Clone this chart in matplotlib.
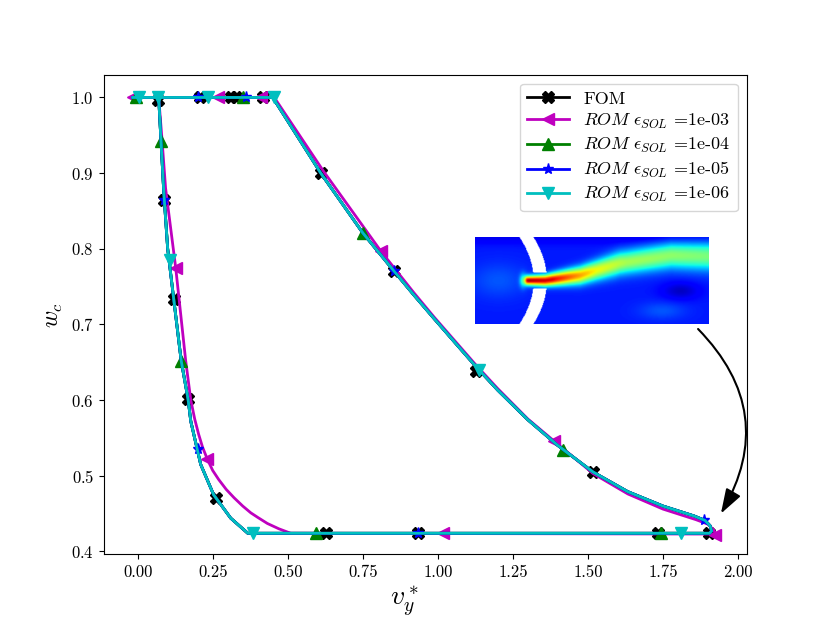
import numpy as np
import matplotlib
matplotlib.use("Agg")
import matplotlib.pyplot as plt
from matplotlib.lines import Line2D

plt.rcParams['font.family'] = 'serif'
plt.rcParams['font.serif'] = ['cmr10', 'DejaVu Serif']
plt.rcParams['mathtext.fontset'] = 'cm'
plt.rcParams['axes.unicode_minus'] = False
plt.rcParams['axes.formatter.use_mathtext'] = True

# front traced by the FOM (ROM 1e-04 .. 1e-06 sit on top of it)
fom_x = [-0.017, 0.45, 0.61, 0.75, 0.853, 0.92, 0.987, 1.077, 1.13, 1.20, 1.30, 1.40,
         1.517, 1.633, 1.75, 1.853, 1.89, 1.907, 1.912, 1.905, 0.367, 0.31, 0.253,
         0.21, 0.177, 0.168, 0.145, 0.12, 0.10, 0.087, 0.078, 0.07]
fom_y = [1.0, 1.0, 0.90, 0.821, 0.771, 0.739, 0.708, 0.667, 0.643, 0.613, 0.574, 0.540,
         0.505, 0.479, 0.460, 0.447, 0.441, 0.434, 0.427, 0.424, 0.424, 0.444, 0.475,
         0.515, 0.572, 0.601, 0.652, 0.734, 0.80, 0.875, 0.94, 1.0]

# ROM eps=1e-03 front
rom3_x = [-0.017, 0.455, 0.62, 0.81, 0.92, 0.987, 1.13, 1.20, 1.30, 1.387, 1.517, 1.633,
          1.75, 1.86, 1.90, 1.92, 1.925, 0.51, 0.47, 0.432, 0.40, 0.377, 0.35, 0.321,
          0.295, 0.27, 0.25, 0.232, 0.216, 0.203, 0.19, 0.177, 0.16, 0.127, 0.093,
          0.08, 0.07]
rom3_y = [1.0, 1.0, 0.902, 0.797, 0.742, 0.710, 0.645, 0.615, 0.575, 0.546, 0.503, 0.476,
          0.456, 0.442, 0.436, 0.428, 0.423, 0.424, 0.430, 0.437, 0.445, 0.451, 0.460,
          0.471, 0.482, 0.495, 0.507, 0.522, 0.538, 0.555, 0.575, 0.60, 0.652, 0.774,
          0.88, 0.95, 1.0]

# marker positions
fom_mx = [0.067, 0.207, 0.31, 0.327, 0.417, 0.61, 0.853, 1.127, 1.517, 1.903, 1.733,
          0.933, 0.627, 0.26, 0.168, 0.12, 0.087]
fom_my = [0.996, 1.0, 1.0, 1.0, 1.0, 0.90, 0.771, 0.638, 0.505, 0.424, 0.424,
          0.424, 0.424, 0.470, 0.601, 0.734, 0.865]
rom3_mx = [-0.017, 0.267, 0.41, 0.81, 1.387, 1.925, 1.017, 0.232, 0.127]
rom3_my = [1.0, 1.0, 1.0, 0.797, 0.546, 0.422, 0.424, 0.522, 0.774]
rom4_mx = [-0.005, 0.077, 0.35, 0.75, 1.417, 1.743, 0.593, 0.145]
rom4_my = [1.0, 0.943, 1.0, 0.821, 0.534, 0.424, 0.424, 0.652]
rom5_mx = [0.202, 0.36, 0.853, 1.887, 0.933, 0.2, 0.087]
rom5_my = [1.0, 1.0, 0.771, 0.442, 0.424, 0.535, 0.865]
rom6_mx = [0.003, 0.067, 0.233, 0.453, 1.137, 1.81, 0.383, 0.107]
rom6_my = [1.0, 1.0, 1.0, 1.0, 0.640, 0.424, 0.424, 0.785]

labels = ['FOM',
          r'$ROM\ \epsilon_{SOL}$ =1e-03',
          r'$ROM\ \epsilon_{SOL}$ =1e-04',
          r'$ROM\ \epsilon_{SOL}$ =1e-05',
          r'$ROM\ \epsilon_{SOL}$ =1e-06']
colors = ['k', 'm', 'g', 'b', 'c']
markers = ['X', '<', '^', '*', 'v']

series = [(fom_x, fom_y, fom_mx, fom_my),
          (rom3_x, rom3_y, rom3_mx, rom3_my),
          (fom_x, fom_y, rom4_mx, rom4_my),
          (fom_x, fom_y, rom5_mx, rom5_my),
          (fom_x, fom_y, rom6_mx, rom6_my)]

fig = plt.figure(figsize=(8.3, 6.23), dpi=100)
ax = fig.add_subplot(111)

handles = []
for (px, py, mx, my), c, mk, lab in zip(series, colors, markers, labels):
    ax.plot(px, py, color=c, lw=2)
    ax.plot(mx, my, color=c, marker=mk, ms=8, ls='none')
    handles.append(Line2D([], [], color=c, lw=2, marker=mk, ms=8, label=lab))

ax.set_xlim(-0.113, 2.03)
ax.set_ylim(0.396, 1.030)
ax.set_xticks([0.0, 0.25, 0.5, 0.75, 1.0, 1.25, 1.5, 1.75, 2.0])
ax.set_xticklabels(['0.00', '0.25', '0.50', '0.75', '1.00', '1.25', '1.50', '1.75', '2.00'])
ax.tick_params(labelsize=12)
ax.set_xlabel(r'$v_y^*$', fontsize=20)
ax.set_ylabel(r'$w_c$', fontsize=17)
ax.xaxis.set_label_coords(0.467, -0.06)

ax.legend(handles=handles, loc='upper right', fontsize=13, handlelength=2.3,
          labelspacing=0.28)

ax.annotate('', xy=(1.943, 0.450), xytext=(1.867, 0.694),
            arrowprops=dict(arrowstyle='-|>,head_length=0.6,head_width=0.2',
                            connectionstyle='arc3,rad=-0.38', color='k', lw=1.5,
                            mutation_scale=25, shrinkA=0, shrinkB=0),
            annotation_clip=False)

# inset: flow snapshot (jet through the orifice)
u = np.linspace(0, 1, 320)
v = np.linspace(0, 1, 120)
U, V = np.meshgrid(u, v)
vc = np.interp(U, [0, 0.3, 0.45, 0.62, 0.84, 1.0], [0.5, 0.5, 0.44, 0.30, 0.21, 0.22])
wd = np.interp(U, [0.21, 0.3, 0.45, 0.6, 1.0], [0.05, 0.065, 0.1, 0.13, 0.16])
peak = np.interp(U, [0.21, 0.33, 0.42, 0.52, 0.65, 1.0], [0.95, 0.92, 0.78, 0.64, 0.55, 0.5])
on = 1 / (1 + np.exp(-(U - 0.215) / 0.004))
field = 0.15 + on * (peak - 0.15) * np.exp(-((V - vc) / wd) ** 2)
field += 0.25 * np.exp(-((U - 0.205) / 0.015) ** 2 - ((V - 0.5) / 0.08) ** 2)
field += 0.06 * np.exp(-((U - 0.1) / 0.12) ** 2 - ((V - 0.5) / 0.2) ** 2)
field -= 0.09 * np.exp(-((U - 0.88) / 0.08) ** 2 - ((V - 0.62) / 0.1) ** 2)
field += 0.06 * np.exp(-((U - 0.8) / 0.1) ** 2 - ((V - 0.85) / 0.1) ** 2)
field -= 0.05 * np.exp(-((V - 0.0) / 0.08) ** 2)
bump = 1 - ((V - 0.5) / 0.5) ** 2
left_e = 0.19 + 0.06 * bump
right_e = 0.25 + 0.057 * bump
mask = (U > left_e) & (U < right_e) & (np.abs(V - 0.5) > 0.09)
cmap = plt.get_cmap('jet').copy()
cmap.set_bad('white')

axin = fig.add_axes([475 / 830, 1 - 324 / 623, 233 / 830, 87 / 623])
axin.imshow(np.ma.masked_array(field, mask), cmap=cmap, vmin=0, vmax=1,
            aspect='auto', interpolation='bilinear')
axin.axis('off')

fig.savefig('out.png', dpi=100)
